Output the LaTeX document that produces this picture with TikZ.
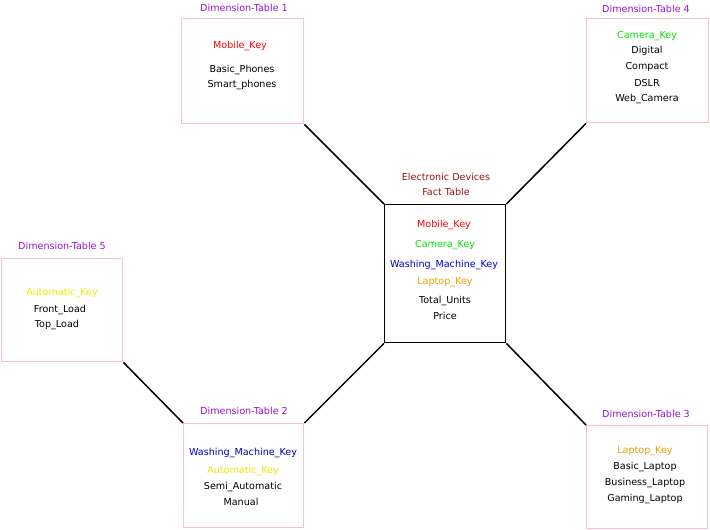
\documentclass[tikz,border=0pt]{standalone}
\usepackage{fontspec}
\setmainfont{DejaVu Sans}
\definecolor{pk}{RGB}{255,190,205}
\definecolor{pu}{RGB}{150,20,210}
\definecolor{dr}{RGB}{150,20,20}
\definecolor{gr}{RGB}{0,230,0}
\definecolor{bl}{RGB}{0,0,200}
\definecolor{og}{RGB}{240,160,0}
\definecolor{ye}{RGB}{235,235,0}
\begin{document}
\begin{tikzpicture}[x=1pt,y=-1pt,
  t/.style={font=\fontsize{9.6}{11}\selectfont,inner sep=0pt,anchor=center},
  link/.style={line width=1.5pt}]
\useasboundingbox (0,0) rectangle (710,530);
\fill[white] (0,0) rectangle (710,530);
\node[draw=pk,line width=1.4pt,minimum width=122,minimum height=105,inner sep=0,anchor=north west] (d1) at (181,18) {};
\node[draw=pk,line width=1.4pt,minimum width=122,minimum height=104,inner sep=0,anchor=north west] (d4) at (586,18) {};
\node[draw=black,line width=1.4pt,minimum width=121,minimum height=138,inner sep=0,anchor=north west] (f) at (384,204) {};
\node[draw=pk,line width=1.4pt,minimum width=121,minimum height=103,inner sep=0,anchor=north west] (d5) at (1,258) {};
\node[draw=pk,line width=1.4pt,minimum width=120,minimum height=104,inner sep=0,anchor=north west] (d2) at (183,423) {};
\node[draw=pk,line width=1.4pt,minimum width=121,minimum height=103,inner sep=0,anchor=north west] (d3) at (586,425) {};
\draw[link] (d1.south east) -- (f.north west);
\draw[link] (d4.south west) -- (f.north east);
\draw[link] (d2.north east) -- (f.south west);
\draw[link] (d3.north west) -- (f.south east);
\draw[link] (d5.south east) -- (d2.north west);
% labels
\node[t,pu] (l1) at (244,8) {Dimension-Table 1};
\node[t,pu] (l4) at (646,9) {Dimension-Table 4};
\node[t,pu] (l5) at (62,246) {Dimension-Table 5};
\node[t,pu] (l2) at (244,411) {Dimension-Table 2};
\node[t,pu] (l3) at (646,414) {Dimension-Table 3};
\node[t,dr] (lf1) at (446,177) {Electronic Devices};
\node[t,dr] (lf2) at (446,192) {Fact Table};
% DT1
\node[t,red] (a1) at (240,46) {Mobile\_Key};
\node[t] (a2) at (242,70) {Basic\_Phones};
\node[t] (a3) at (242,85) {Smart\_phones};
% DT4
\node[t,gr] (b1) at (647,36) {Camera\_Key};
\node[t] (b2) at (647,51) {Digital};
\node[t] (b3) at (647,67) {Compact};
\node[t] (b4) at (647,83) {DSLR};
\node[t] (b5) at (647,99) {Web\_Camera};
% Fact
\node[t,red] (c1) at (444,225) {Mobile\_Key};
\node[t,gr] (c2) at (445,245) {Camera\_Key};
\node[t,bl] (c3) at (444,265) {Washing\_Machine\_Key};
\node[t,og] (c4) at (445,282) {Laptop\_Key};
\node[t] (c5) at (445,301) {Total\_Units};
\node[t] (c6) at (445,316) {Price};
% DT5
\node[t,ye] (e1) at (62,293) {Automatic\_Key};
\node[t] (e2) at (60,310) {Front\_Load};
\node[t] (e3) at (57,325) {Top\_Load};
% DT2
\node[t,bl] (g1) at (243,453) {Washing\_Machine\_Key};
\node[t,ye] (g2) at (243,471) {Automatic\_Key};
\node[t] (g3) at (243,487) {Semi\_Automatic};
\node[t] (g4) at (241,502) {Manual};
% DT3
\node[t,og] (h1) at (645,451) {Laptop\_Key};
\node[t] (h2) at (645,467) {Basic\_Laptop};
\node[t] (h3) at (645,483) {Business\_Laptop};
\node[t] (h4) at (645,499) {Gaming\_Laptop};
\end{tikzpicture}
\end{document}
